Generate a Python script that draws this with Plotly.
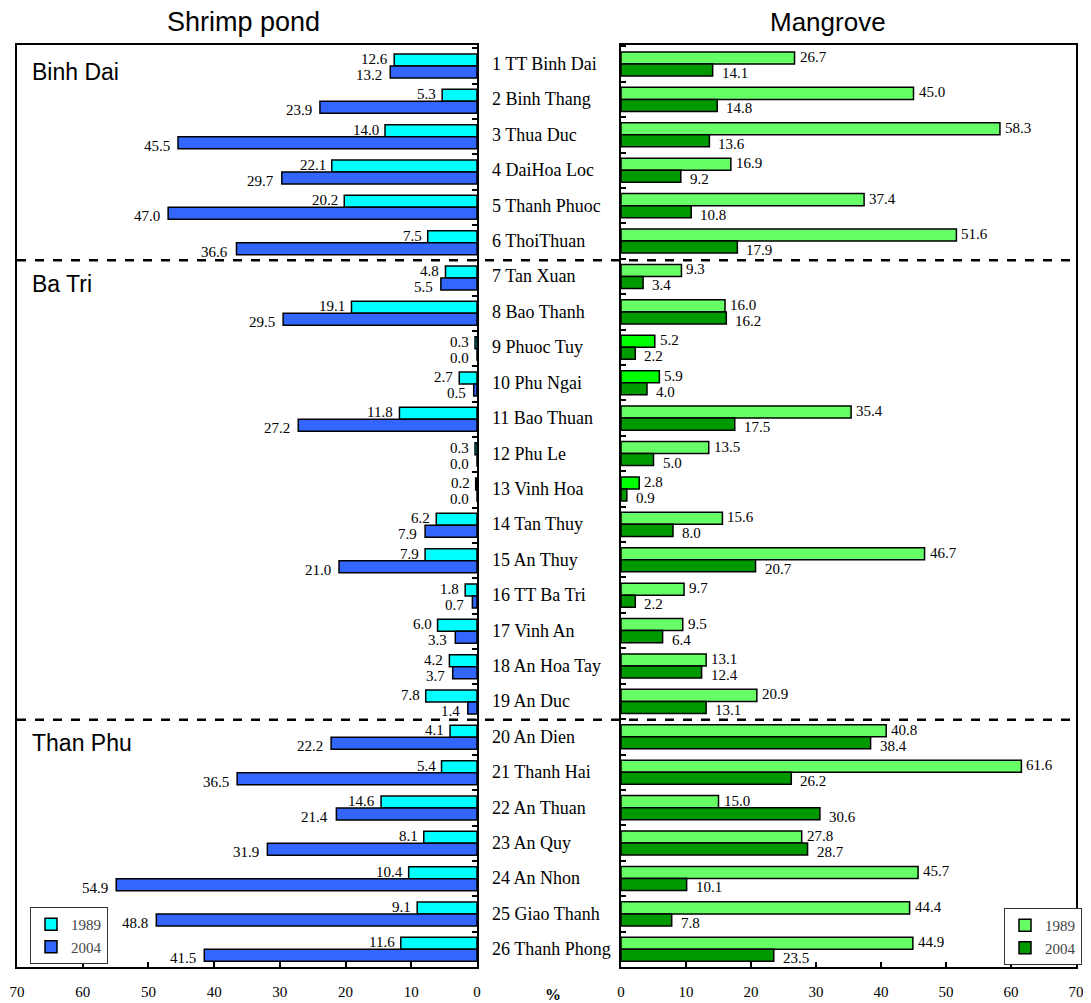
import plotly.graph_objects as go

communes = [
    "1 TT Binh Dai", "2 Binh Thang", "3 Thua Duc", "4 DaiHoa Loc", "5 Thanh Phuoc",
    "6 ThoiThuan", "7 Tan Xuan", "8 Bao Thanh", "9 Phuoc Tuy", "10 Phu Ngai",
    "11 Bao Thuan", "12 Phu Le", "13 Vinh Hoa", "14 Tan Thuy", "15 An Thuy",
    "16 TT Ba Tri", "17 Vinh An", "18 An Hoa Tay", "19 An Duc", "20 An Dien",
    "21 Thanh Hai", "22 An Thuan", "23 An Quy", "24 An Nhon", "25 Giao Thanh",
    "26 Thanh Phong",
]
districts = ["Binh Dai", "Ba Tri", "Than Phu"]
district_first = ["1 TT Binh Dai", "7 Tan Xuan", "20 An Dien"]

shrimp_1989 = [12.6, 5.3, 14.0, 22.1, 20.2, 7.5, 4.8, 19.1, 0.3, 2.7, 11.8, 0.3, 0.2,
               6.2, 7.9, 1.8, 6.0, 4.2, 7.8, 4.1, 5.4, 14.6, 8.1, 10.4, 9.1, 11.6]
shrimp_2004 = [13.2, 23.9, 45.5, 29.7, 47.0, 36.6, 5.5, 29.5, 0.0, 0.5, 27.2, 0.0, 0.0,
               7.9, 21.0, 0.7, 3.3, 3.7, 1.4, 22.2, 36.5, 21.4, 31.9, 54.9, 48.8, 41.5]
mangrove_1989 = [26.7, 45.0, 58.3, 16.9, 37.4, 51.6, 9.3, 16.0, 5.2, 5.9, 35.4, 13.5, 2.8,
                 15.6, 46.7, 9.7, 9.5, 13.1, 20.9, 40.8, 61.6, 15.0, 27.8, 45.7, 44.4, 44.9]
mangrove_2004 = [14.1, 14.8, 13.6, 9.2, 10.8, 17.9, 3.4, 16.2, 2.2, 4.0, 17.5, 5.0, 0.9,
                 8.0, 20.7, 2.2, 6.4, 12.4, 13.1, 38.4, 26.2, 30.6, 28.7, 10.1, 7.8, 23.5]
x_ticks = [0, 10, 20, 30, 40, 50, 60, 70]

# a few of the 1989 mangrove bars are drawn in a brighter green
bright = {"9 Phuoc Tuy", "10 Phu Ngai", "13 Vinh Hoa"}
mangrove_1989_colors = ["#00ff00" if c in bright else "#66ff66" for c in communes]

# the page body adds an 8px margin, so the figure is a bit smaller than the window
OFF = 8
W, H = 1091 - OFF, 1003 - OFF
serif = "Liberation Serif"
sans = "Liberation Sans"


def px_x(p):
    return (p - OFF) / W


def px_y(p):
    return 1 - (p - OFF) / H


bar_line = dict(color="black", width=1.5)

fig = go.Figure()
fig.add_trace(go.Bar(y=communes, x=shrimp_1989, orientation="h", name="1989",
                     marker=dict(color="#00ffff", line=bar_line),
                     xaxis="x", yaxis="y", legend="legend"))
fig.add_trace(go.Bar(y=communes, x=shrimp_2004, orientation="h", name="2004",
                     marker=dict(color="#3366ff", line=bar_line),
                     xaxis="x", yaxis="y", legend="legend"))
fig.add_trace(go.Bar(y=communes, x=mangrove_1989, orientation="h", name="1989",
                     marker=dict(color=mangrove_1989_colors, line=bar_line),
                     xaxis="x2", yaxis="y2", legend="legend2"))
fig.add_trace(go.Bar(y=communes, x=mangrove_2004, orientation="h", name="2004",
                     marker=dict(color="#009900", line=bar_line),
                     xaxis="x2", yaxis="y2", legend="legend2"))

xaxis_common = dict(
    range=[0, 70], tickvals=x_ticks, ticks="inside", ticklen=5, tickwidth=1.5,
    tickcolor="black", showline=True, linecolor="black", linewidth=2, mirror=True,
    showgrid=False, zeroline=False, ticklabelstandoff=10,
    tickfont=dict(family=serif, size=15, color="black"),
)
yaxis_common = dict(
    categoryorder="array", categoryarray=communes, autorange="reversed",
    tickson="boundaries", ticks="inside", ticklen=5, tickwidth=1.5, tickcolor="black",
    showticklabels=False, showline=True, linecolor="black", linewidth=2, mirror=True,
    showgrid=False, zeroline=False,
)
y_dom = [px_y(967), px_y(45)]

legend_common = dict(
    bgcolor="white", bordercolor="#333333", borderwidth=1,
    font=dict(family=serif, size=15, color="#444444"),
    xanchor="left", yanchor="top", tracegroupgap=0, itemwidth=30,
)

fig.update_layout(
    width=W, height=H,
    margin=dict(l=0, r=0, t=0, b=0, autoexpand=False),
    plot_bgcolor="white", paper_bgcolor="white",
    barmode="group", bargap=0.32, bargroupgap=0.0,
    xaxis=dict(xaxis_common, domain=[px_x(17), px_x(477)], autorange=False,
               range=[70, 0], anchor="y"),
    yaxis=dict(yaxis_common, domain=y_dom, side="right", anchor="x"),
    xaxis2=dict(xaxis_common, domain=[px_x(621), px_x(1076)], anchor="y2"),
    yaxis2=dict(yaxis_common, domain=y_dom, anchor="x2"),
    legend=dict(legend_common, x=px_x(30), y=px_y(907)),
    legend2=dict(legend_common, x=px_x(1004), y=px_y(908)),
    showlegend=True,
)

annotations = [
    dict(text="Shrimp pond", x=px_x(243), y=px_y(22), xref="paper", yref="paper",
         xanchor="center", yanchor="middle", showarrow=False,
         font=dict(family=sans, size=27, color="black")),
    dict(text="Mangrove", x=px_x(828), y=px_y(22), xref="paper", yref="paper",
         xanchor="center", yanchor="middle", showarrow=False,
         font=dict(family=sans, size=26, color="black")),
    dict(text="<b>%</b>", x=px_x(553), y=px_y(994), xref="paper", yref="paper",
         xanchor="center", yanchor="middle", showarrow=False,
         font=dict(family=serif, size=16, color="black")),
]
for c in communes:
    annotations.append(dict(text=c, x=px_x(490), y=c, xref="paper", yref="y2",
                            xanchor="left", yanchor="middle", showarrow=False,
                            font=dict(family=serif, size=18, color="black")))
for d, c in zip(districts, district_first):
    annotations.append(dict(text=d, x=px_x(30), y=c, xref="paper", yref="y",
                            xanchor="left", yanchor="middle", yshift=-6,
                            showarrow=False,
                            font=dict(family=sans, size=23, color="black")))

# value labels next to the bar ends
val_font = dict(family=serif, size=15, color="black")
for c, a, b in zip(communes, shrimp_1989, shrimp_2004):
    annotations.append(dict(text=f"{a:.1f}", x=a, y=c, xref="x", yref="y",
                            xanchor="right", xshift=-4, yshift=7, showarrow=False,
                            font=val_font))
    annotations.append(dict(text=f"{b:.1f}", x=b, y=c, xref="x", yref="y",
                            xanchor="right", xshift=-6, yshift=-9, showarrow=False,
                            font=val_font))
for c, a, b in zip(communes, mangrove_1989, mangrove_2004):
    annotations.append(dict(text=f"{a:.1f}", x=a, y=c, xref="x2", yref="y2",
                            xanchor="left", xshift=3, yshift=7, showarrow=False,
                            font=val_font))
    annotations.append(dict(text=f"{b:.1f}", x=b, y=c, xref="x2", yref="y2",
                            xanchor="left", xshift=7, yshift=-9, showarrow=False,
                            font=val_font))
fig.update_layout(annotations=annotations)

# dashed separators between districts
for c in district_first[1:]:
    idx = communes.index(c) - 0.5
    fig.add_shape(type="line", xref="paper", yref="y", x0=px_x(17), x1=px_x(1076),
                  y0=idx, y1=idx, line=dict(color="black", width=2.5, dash="dash"))

fig.write_html("out.html")
